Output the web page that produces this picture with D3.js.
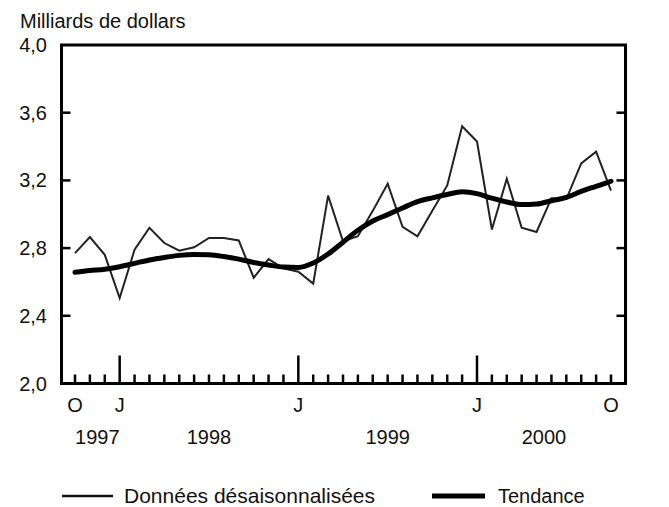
<!DOCTYPE html>
<html>
<head>
<meta charset="utf-8">
<script src="https://cdn.jsdelivr.net/npm/d3@7"></script>
<style>
    body { margin: 0; background: #fff; }
    text { font-family: "Liberation Sans", Arial, sans-serif; fill: #111; }
</style>
</head>
<body>
<svg id="chart" width="669" height="507"></svg>
<script>
// monthly data, October 1997 to October 2000
let monthLabels = ["O", "N", "D", "J", "F", "M", "A", "M", "J", "J", "A", "S", "O", "N", "D",
                   "J", "F", "M", "A", "M", "J", "J", "A", "S", "O", "N", "D",
                   "J", "F", "M", "A", "M", "J", "J", "A", "S", "O"]
let shownMonths = {0: "O", 3: "J", 15: "J", 27: "J", 36: "O"}
let yearLabels = ["1997", "1998", "1999", "2000"]
let yearSpans = [[0, 3], [3, 15], [15, 27], [27, 36]]
let yTicks = [2.0, 2.4, 2.8, 3.2, 3.6, 4.0]

let rawValues = [2.77, 2.865, 2.76, 2.505, 2.79, 2.92, 2.83, 2.785, 2.805, 2.86, 2.86, 2.845,
                 2.625, 2.735, 2.68, 2.66, 2.59, 3.11, 2.84, 2.87, 3.02, 3.18, 2.925, 2.87,
                 3.02, 3.17, 3.52, 3.43, 2.91, 3.21, 2.92, 2.895, 3.095, 3.09, 3.30, 3.37, 3.14]

let trendValues = [2.657, 2.667, 2.675, 2.69, 2.71, 2.73, 2.745, 2.757, 2.762, 2.76, 2.75, 2.735,
                   2.715, 2.70, 2.688, 2.686, 2.712, 2.765, 2.835, 2.905, 2.96, 2.998, 3.037, 3.075,
                   3.097, 3.117, 3.133, 3.122, 3.095, 3.072, 3.057, 3.06, 3.08, 3.10, 3.135, 3.165, 3.195]

let svg = d3.select("#chart")

let box = {left: 61.5, right: 625.5, top: 45, bottom: 383.5}

let x = d3.scaleLinear().domain([0, 36]).range([75, 611])
let y = d3.scaleLinear().domain([2.0, 4.0]).range([box.bottom, box.top])

let frLocale = d3.formatLocale({decimal: ",", thousands: " ", grouping: [3], currency: ["", " $"]})
let fmt = frLocale.format(".1f")

// unit label
svg.append("text")
    .attr("x", 20)
    .attr("y", 28)
    .style("font-size", "20px")
    .text("Milliards de dollars")

// y tick labels
svg.selectAll(".ylab")
    .data(yTicks)
    .enter()
    .append("text")
    .attr("class", "ylab")
    .attr("x", 47)
    .attr("y", d => y(d))
    .attr("dy", "0.35em")
    .attr("text-anchor", "end")
    .style("font-size", "20px")
    .text(d => fmt(d))

// y ticks on both sides, pointing inward
let innerTicks = yTicks.filter(d => d > 2.0 && d < 4.0)
svg.selectAll(".ytickL")
    .data(innerTicks)
    .enter()
    .append("line")
    .attr("x1", box.left)
    .attr("x2", box.left + 9)
    .attr("y1", d => y(d))
    .attr("y2", d => y(d))
    .attr("stroke", "#000")
    .attr("stroke-width", 2.5)
svg.selectAll(".ytickR")
    .data(innerTicks)
    .enter()
    .append("line")
    .attr("x1", box.right)
    .attr("x2", box.right - 9)
    .attr("y1", d => y(d))
    .attr("y2", d => y(d))
    .attr("stroke", "#000")
    .attr("stroke-width", 2.5)

// month ticks, tall at january
svg.selectAll(".xtick")
    .data(monthLabels)
    .enter()
    .append("line")
    .attr("x1", (d, i) => x(i))
    .attr("x2", (d, i) => x(i))
    .attr("y1", box.bottom)
    .attr("y2", (d, i) => (i === 3 || i === 15 || i === 27) ? box.bottom - 28 : box.bottom - 9)
    .attr("stroke", "#000")
    .attr("stroke-width", 2.5)

// month letters
Object.keys(shownMonths).forEach(function(k) {
    svg.append("text")
        .attr("x", x(+k))
        .attr("y", 412)
        .attr("text-anchor", "middle")
        .style("font-size", "20px")
        .text(shownMonths[k])
})

// years
yearLabels.forEach(function(yr, i) {
    svg.append("text")
        .attr("x", (x(yearSpans[i][0]) + x(yearSpans[i][1])) / 2)
        .attr("y", 444)
        .attr("text-anchor", "middle")
        .style("font-size", "20px")
        .text(yr)
})

// raw series
let rawLine = d3.line()
    .x((d, i) => x(i))
    .y(d => y(d))
svg.append("path")
    .datum(rawValues)
    .attr("d", rawLine)
    .attr("fill", "none")
    .attr("stroke", "#222")
    .attr("stroke-width", 2)
    .attr("stroke-linejoin", "miter")

// trend
let trendLine = d3.line()
    .x((d, i) => x(i))
    .y(d => y(d))
    .curve(d3.curveMonotoneX)
svg.append("path")
    .datum(trendValues)
    .attr("d", trendLine)
    .attr("fill", "none")
    .attr("stroke", "#000")
    .attr("stroke-width", 5)
    .attr("stroke-linecap", "round")

// frame
svg.append("rect")
    .attr("x", box.left)
    .attr("y", box.top)
    .attr("width", box.right - box.left)
    .attr("height", box.bottom - box.top)
    .attr("fill", "none")
    .attr("stroke", "#000")
    .attr("stroke-width", 3)

// legend
svg.append("line")
    .attr("x1", 62).attr("x2", 113)
    .attr("y1", 496).attr("y2", 496)
    .attr("stroke", "#111")
    .attr("stroke-width", 2.5)
svg.append("text")
    .attr("x", 124)
    .attr("y", 503)
    .style("font-size", "21px")
    .text("Données désaisonnalisées")
svg.append("line")
    .attr("x1", 432).attr("x2", 485)
    .attr("y1", 496).attr("y2", 496)
    .attr("stroke", "#000")
    .attr("stroke-width", 5)
svg.append("text")
    .attr("x", 498)
    .attr("y", 503)
    .style("font-size", "20px")
    .text("Tendance")
</script>
</body>
</html>
